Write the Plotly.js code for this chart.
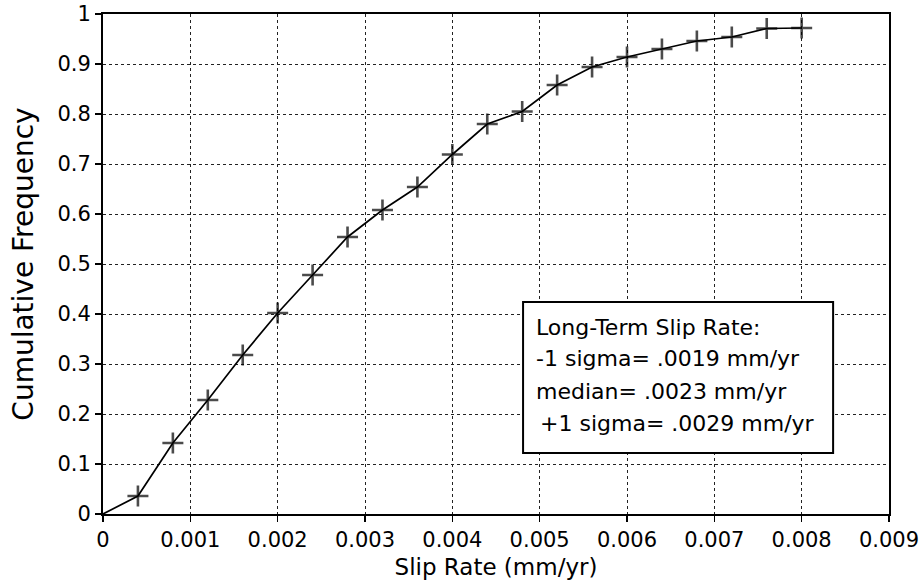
<!DOCTYPE html>
<html>
<head>
<meta charset="utf-8">
<script src="https://cdn.plot.ly/plotly-3.0.1.min.js"></script>
<style>html,body{margin:0;padding:0;background:#fff;}#chart{width:924px;height:587px;}</style>
</head>
<body>
<div id="chart"></div>
<script>
// Data
const slipRate = [0, 0.0004, 0.0008, 0.0012, 0.0016, 0.0020, 0.0024, 0.0028, 0.0032, 0.0036, 0.0040,
                  0.0044, 0.0048, 0.0052, 0.0056, 0.0060, 0.0064, 0.0068, 0.0072, 0.0076, 0.0080];
const cumFreq  = [0, 0.036, 0.142, 0.228, 0.318, 0.402, 0.478, 0.554, 0.608, 0.654, 0.719,
                  0.780, 0.805, 0.858, 0.894, 0.914, 0.930, 0.946, 0.954, 0.971, 0.972];
// first point (origin) has no marker
const markerSizes = slipRate.map((v, i) => i === 0 ? 0 : 15);

const xTickVals = [0, 0.001, 0.002, 0.003, 0.004, 0.005, 0.006, 0.007, 0.008, 0.009];
const xTickText = ["0", "0.001", "0.002", "0.003", "0.004", "0.005", "0.006", "0.007", "0.008", "0.009"];
const yTickVals = [0, 0.1, 0.2, 0.3, 0.4, 0.5, 0.6, 0.7, 0.8, 0.9, 1];
const yTickText = ["0", "0.1", "0.2", "0.3", "0.4", "0.5", "0.6", "0.7", "0.8", "0.9", "1"];

const legendLines = [
  "Long-Term Slip Rate:",
  "-1 sigma= .0019 mm/yr",
  "median= .0023 mm/yr",
  "+1 sigma= .0029 mm/yr"
];

const FONT = "DejaVu Sans, Arial, sans-serif";

const trace = {
  x: slipRate,
  y: cumFreq,
  type: "scatter",
  mode: "lines+markers",
  line: {color: "#000", width: 1.7},
  marker: {symbol: "cross-thin", size: markerSizes, color: "#000", line: {color: "#000", width: 2.6}},
  hoverinfo: "skip",
  showlegend: false
};

const axisCommon = {
  showline: true, linecolor: "#000", linewidth: 2, mirror: true,
  ticks: "outside", ticklen: 6, tickwidth: 1.5, tickcolor: "#000",
  showgrid: true, gridcolor: "#222", gridwidth: 1, griddash: "dot",
  zeroline: false, tickfont: {family: FONT, size: 21, color: "#000"},
  fixedrange: true
};

// legend box text lines, spaced evenly
const lineY = [0.374, 0.311, 0.245, 0.181];
const lineX = [0.00494, 0.00494, 0.00494, 0.00498];
const annotations = legendLines.map((t, i) => ({
  x: lineX[i], y: lineY[i], xref: "x", yref: "y",
  text: t, showarrow: false, xanchor: "left", yanchor: "middle",
  font: {family: FONT, size: 22, color: "#000"}
}));

const layout = {
  width: 924, height: 587,
  margin: {l: 103, r: 35, t: 14, b: 73, pad: 0},
  paper_bgcolor: "#fff", plot_bgcolor: "#fff",
  xaxis: Object.assign({}, axisCommon, {
    range: [0, 0.009], tickmode: "array", tickvals: xTickVals, ticktext: xTickText,
    title: {text: "Slip Rate (mm/yr)", font: {family: FONT, size: 23, color: "#000"}, standoff: 8}
  }),
  yaxis: Object.assign({}, axisCommon, {
    range: [0, 1], tickmode: "array", tickvals: yTickVals, ticktext: yTickText,
    title: {text: "Cumulative Frequency", font: {family: FONT, size: 28, color: "#000"}, standoff: 16}
  }),
  shapes: [{
    type: "rect", xref: "x", yref: "y",
    x0: 0.00481, x1: 0.00836, y0: 0.122, y1: 0.424,
    line: {color: "#000", width: 2}, fillcolor: "#fff", layer: "above"
  }],
  annotations: annotations
};

Plotly.newPlot("chart", [trace], layout, {staticPlot: true, displayModeBar: false});
</script>
</body>
</html>
